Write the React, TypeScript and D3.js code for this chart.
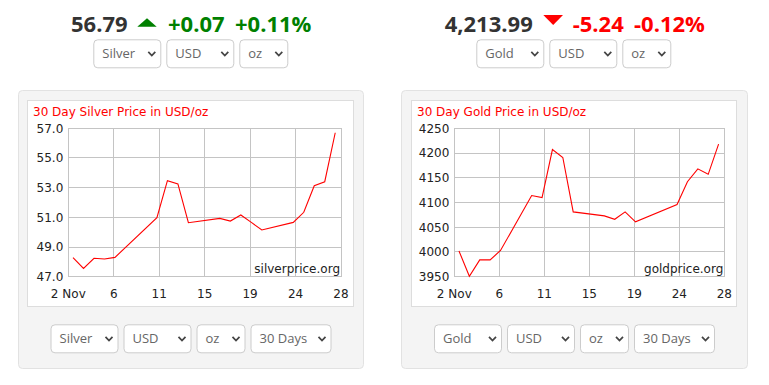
import React from 'react';
import * as d3 from 'd3';

// day of November (points sit a little after midnight on the axis)
const silverDays = [2, 3, 4, 5, 6, 10, 11, 12, 13, 16, 17, 18, 19, 20, 23, 24, 25, 26, 27];
const silverPrices = [48.28, 47.56, 48.24, 48.19, 48.3, 50.98, 53.47, 53.25, 50.64, 50.93, 50.75, 51.16, 50.66, 50.15, 50.66, 51.34, 53.13, 53.4, 56.7];
const goldDays = [2, 3, 4, 5, 6, 9, 10, 11, 12, 13, 16, 17, 18, 19, 23, 24, 25, 26, 27];
const goldPrices = [4002, 3951, 3984, 3984, 4003, 4114, 4110, 4207, 4191, 4081, 4073, 4066, 4081, 4061, 4096, 4142, 4168, 4157, 4218];

const xTickLabels = ['2 Nov', '6', '11', '15', '19', '24', '28'];
const silverYTicks = [47, 49, 51, 53, 55, 57];
const goldYTicks = [3950, 4000, 4050, 4100, 4150, 4200, 4250];

const SANS = '"Open Sans", sans-serif';
const DV = '"DejaVu Sans", sans-serif';

function Select({ x, y, w, label }) {
  const h = 29;
  const cx = x + w - 9.5;
  const cy = y + h / 2;
  return (
    <g>
      <rect x={x + 0.5} y={y + 0.5} width={w - 1} height={h - 1} rx={4} fill="#fff" stroke="#ccc" />
      <text x={x + 9} y={y + h / 2 + 4.5} fontFamily={SANS} fontSize={13} fill="#666">{label}</text>
      <path d={`M${cx - 3.5},${cy - 2} L${cx},${cy + 1.8} L${cx + 3.5},${cy - 2}`} fill="none" stroke="#444" strokeWidth={1.7} />
    </g>
  );
}

function SelectRow({ cx, y, items }) {
  const gap = 5;
  const total = d3.sum(items, (d) => d[1]) + gap * (items.length - 1);
  let x = cx - total / 2;
  return (
    <g>
      {items.map(([label, w], i) => {
        const el = <Select key={i} x={x} y={y} w={w} label={label} />;
        x += w + gap;
        return el;
      })}
    </g>
  );
}

function Panel({ left, width, innerLeft, innerWidth, plotLeft, plotRight, title, site, days, prices, yTicks, yFmt, metal }) {
  const top = 128.3;
  const bottom = 276.7;
  const x = d3.scaleLinear().domain([2, 28]).range([plotLeft, plotRight]);
  const y = d3.scaleLinear().domain([yTicks[0], yTicks[yTicks.length - 1]]).range([bottom, top]);
  const xTicks = xTickLabels.map((_, i) => 2 + (i * 26) / (xTickLabels.length - 1));
  const line = d3.line().x((d) => x(d[0] + 0.45)).y((d) => y(d[1]));
  const pts = days.map((d, i) => [d, prices[i]]);
  const fmt = d3.format(yFmt);
  const cx = left + width / 2;

  return (
    <g>
      <rect x={left + 0.5} y={90.5} width={width - 1} height={278} rx={4} fill="#f4f4f4" stroke="#e2e2e2" />
      <rect x={innerLeft + 0.5} y={100.5} width={innerWidth - 1} height={206} fill="#fff" stroke="#ddd" />
      <text x={innerLeft + 6} y={115.7} fontFamily={DV} fontSize={12} fill="#ff0000">{title}</text>
      <g stroke="#c4c4c4" strokeWidth={1} shapeRendering="crispEdges">
        {yTicks.map((t) => (
          <line key={'y' + t} x1={plotLeft} x2={plotRight} y1={y(t)} y2={y(t)} />
        ))}
        {xTicks.map((t, i) => (
          <line key={'x' + i} x1={x(t)} x2={x(t)} y1={top} y2={bottom} />
        ))}
      </g>
      {yTicks.map((t) => (
        <text key={'yl' + t} x={plotLeft - 5} y={y(t)} dy="0.36em" textAnchor="end" fontFamily={DV} fontSize={12} fill="#222">{fmt(t)}</text>
      ))}
      {xTicks.map((t, i) => (
        <text key={'xl' + i} x={x(t)} y={bottom + 21.5} textAnchor="middle" fontFamily={DV} fontSize={12} fill="#222">{xTickLabels[i]}</text>
      ))}
      <text x={plotRight - 1} y={bottom - 3.5} textAnchor="end" fontFamily={DV} fontSize={12} fill="#222">{site}</text>
      <path d={line(pts)} fill="none" stroke="#ff0000" strokeWidth={1.1} />
      <SelectRow cx={cx} y={324.3} items={[[metal, 68], ['USD', 68], ['oz', 49], ['30 Days', 81]]} />
    </g>
  );
}

export default function App() {
  return (
    <div style={{ position: 'absolute', left: 0, top: 0 }}>
      <svg width={769} height={385} style={{ display: 'block' }}>
        <rect width={769} height={385} fill="#fff" />
        {/* silver header */}
        <g fontFamily={SANS} fontWeight={700} fontSize={22}>
          <text x={71} y={32} fill="#333">56.79</text>
          <path d="M137.3,26.7 L156.7,26.7 L147,18.3 Z" fill="#008000" />
          <text x={168} y={32} fill="#008000">+0.07</text>
          <text x={235} y={32} fill="#008000">+0.11%</text>
        </g>
        <SelectRow cx={190.8} y={39.3} items={[['Silver', 68], ['USD', 68], ['oz', 49]]} />
        {/* gold header */}
        <g fontFamily={SANS} fontWeight={700} fontSize={22}>
          <text x={444.7} y={32} fill="#333">4,213.99</text>
          <path d="M543.3,15 L563,15 L553.2,25 Z" fill="#ff0000" />
          <text x={572.7} y={32} fill="#ff0000">-5.24</text>
          <text x={634} y={32} fill="#ff0000">-0.12%</text>
        </g>
        <SelectRow cx={573.8} y={39.3} items={[['Gold', 68], ['USD', 68], ['oz', 49]]} />

        <Panel left={18} width={346} innerLeft={27} innerWidth={327} plotLeft={68.3} plotRight={341}
          title="30 Day Silver Price in USD/oz" site="silverprice.org" days={silverDays} prices={silverPrices}
          yTicks={silverYTicks} yFmt=".1f" metal="Silver" />
        <Panel left={401} width={347} innerLeft={411} innerWidth={326} plotLeft={454.3} plotRight={724.3}
          title="30 Day Gold Price in USD/oz" site="goldprice.org" days={goldDays} prices={goldPrices}
          yTicks={goldYTicks} yFmt="d" metal="Gold" />
      </svg>
    </div>
  );
}
